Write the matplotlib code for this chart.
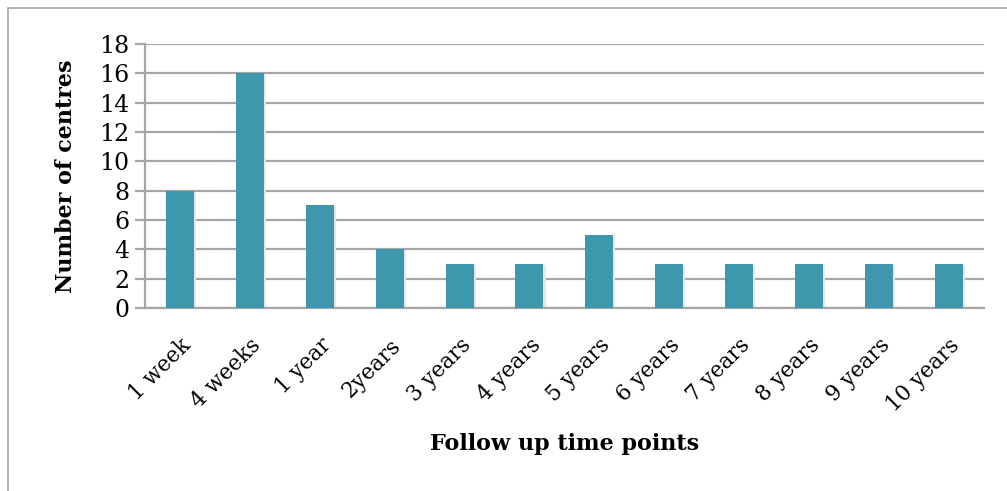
import matplotlib
matplotlib.use("Agg")
import matplotlib.pyplot as plt
from matplotlib.patches import Rectangle

categories = ["1 week", "4 weeks", "1 year", "2years", "3 years", "4 years",
              "5 years", "6 years", "7 years", "8 years", "9 years", "10 years"]
centres = [8, 16, 7, 4, 3, 3, 5, 3, 3, 3, 3, 3]

plt.rcParams['font.family'] = ['DejaVu Serif']

fig = plt.figure(figsize=(10.07, 4.91), dpi=100)
ax = fig.add_axes([0.144, 0.3727, 0.833, 0.5377])

# frame around the whole chart (runs off the right and bottom edges)
fig.patches.append(Rectangle((8 / 1007, -0.5), 3.0, 1.5 - 8 / 491,
                             transform=fig.transFigure, fill=False,
                             edgecolor='#A6A6A6', linewidth=1.2))

x = range(len(categories))
# soft shadow under each bar
ax.bar([i + 0.025 for i in x], [v - 0.06 for v in centres], width=0.41,
       color='#E6E6E6', zorder=2)
ax.bar(x, centres, width=0.4, color='#3D97AD', zorder=3)

ax.set_xlim(-0.5, len(categories) - 0.5)
ax.set_ylim(0, 18)
ax.set_yticks(range(0, 19, 2))
ax.yaxis.grid(True, color='#A6A6A6', linewidth=1.6, zorder=0)
ax.set_axisbelow(True)

for s in ['top', 'right']:
    ax.spines[s].set_visible(False)
ax.spines['left'].set_color('#A6A6A6')
ax.spines['left'].set_linewidth(1.6)
ax.spines['bottom'].set_color('#A6A6A6')
ax.spines['bottom'].set_linewidth(1.6)

ax.tick_params(axis='y', length=7, width=1.6, color='#A6A6A6', labelsize=17, pad=4)
ax.tick_params(axis='x', length=0, labelsize=15.5, pad=19)
ax.set_xticks(list(x))
ax.set_xticklabels(categories, rotation=45, ha='right', rotation_mode='anchor')

ax.set_ylabel("Number of centres", fontsize=16, fontweight='bold', labelpad=16)
ax.set_xlabel("Follow up time points", fontsize=16, fontweight='bold', labelpad=12)

fig.savefig("out.png", dpi=100)
